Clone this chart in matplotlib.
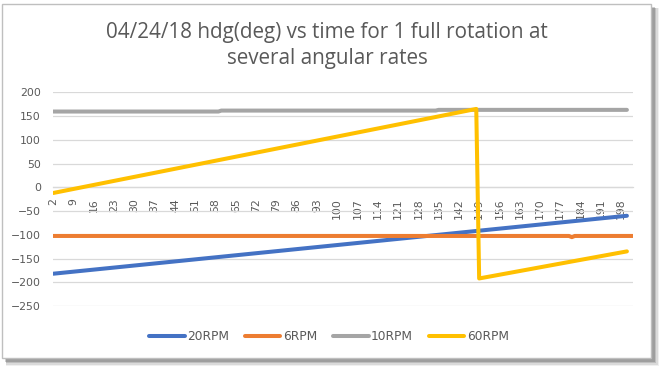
import matplotlib
matplotlib.use("Agg")
import matplotlib.pyplot as plt
from matplotlib.patches import Rectangle

# series (category number, heading in deg)
rpm20_x = [2, 200]
rpm20_y = [-182, -60]

rpm6_x = [2, 180, 181, 182, 202]
rpm6_y = [-102.5, -102.5, -105, -102.5, -102.5]

rpm10_x = [2, 59, 60, 134, 135, 200]
rpm10_y = [159.5, 159.5, 161.5, 161.5, 163, 163]

rpm60_x = [2, 148, 149, 200]
rpm60_y = [-12, 165, -192, -135]

series_names = ["20RPM", "6RPM", "10RPM", "60RPM"]
series_colors = ["#4472C4", "#ED7D31", "#A5A5A5", "#FFC000"]

x_ticks = list(range(2, 199, 7))
y_ticks = list(range(-250, 201, 50))

title_lines = ["04/24/18 hdg(deg) vs time for 1 full rotation at",
               "several angular rates"]
txt = "#595959"
grid = "#D9D9D9"

W, H = 659, 370
fig = plt.figure(figsize=(W / 100, H / 100), dpi=100)
fig.patch.set_facecolor("white")

# chart area with a soft drop shadow like the Excel screenshot
def px_rect(x0, y0, x1, y1, **kw):
    return Rectangle((x0 / W, 1 - y1 / H), (x1 - x0) / W, (y1 - y0) / H,
                     transform=fig.transFigure, **kw)

for i, a in enumerate([0.08, 0.12, 0.18, 0.25]):
    d = 8 - 1.5 * i
    fig.add_artist(px_rect(4 + d * 0.3, 6 + d * 0.3, 651 + d, 358 + d,
                           facecolor="#404040", edgecolor="none", alpha=a, zorder=0))
fig.add_artist(px_rect(2, 4, 651, 358, facecolor="white", edgecolor="#BFBFBF",
                       linewidth=1.0, zorder=0.5))

ax = fig.add_axes([53.3 / W, 1 - 306 / H, (632.7 - 53.3) / W, (306 - 92.3) / H])
ax.set_facecolor("none")
ax.set_zorder(2)

xs = [rpm20_x, rpm6_x, rpm10_x, rpm60_x]
ys = [rpm20_y, rpm6_y, rpm10_y, rpm60_y]
for x, y, name, c in zip(xs, ys, series_names, series_colors):
    ax.plot(x, y, color=c, linewidth=2.9, label=name,
            solid_capstyle="round", solid_joinstyle="round")

ax.set_xlim(2, 202)
ax.set_ylim(-250, 200)
ax.set_yticks(y_ticks)
ax.set_xticks(x_ticks)
ax.set_xticklabels([str(v) for v in x_ticks])
ax.grid(axis="y", color=grid, linewidth=0.9)
ax.set_axisbelow(True)

for s in ["top", "right", "left"]:
    ax.spines[s].set_visible(False)
ax.spines["bottom"].set_position(("data", 0))
ax.spines["bottom"].set_color(grid)
ax.spines["bottom"].set_linewidth(0.9)
ax.spines["bottom"].set_zorder(0.8)

ax.tick_params(axis="x", length=0, pad=8, labelsize=7.8, labelcolor=txt,
               labelrotation=90)
ax.tick_params(axis="y", length=0, pad=9, labelsize=7.8, labelcolor=txt)

# two title lines placed by baseline (38 px and 64 px from the top)
for line, base in zip(title_lines, [38, 64]):
    fig.text(327 / W, 1 - base / H, line, ha="center", va="baseline",
             fontsize=14.9, color=txt, family="Open Sans")

leg = fig.legend(loc="center", bbox_to_anchor=(329 / W, 1 - 337 / H), ncol=4,
                 frameon=False, fontsize=8.8, handlelength=2.9, handletextpad=0.2,
                 columnspacing=1.3)
for t in leg.get_texts():
    t.set_color(txt)
for h in leg.legend_handles:
    h.set_solid_capstyle("round")

fig.savefig("out.png", dpi=100, facecolor=fig.get_facecolor())
